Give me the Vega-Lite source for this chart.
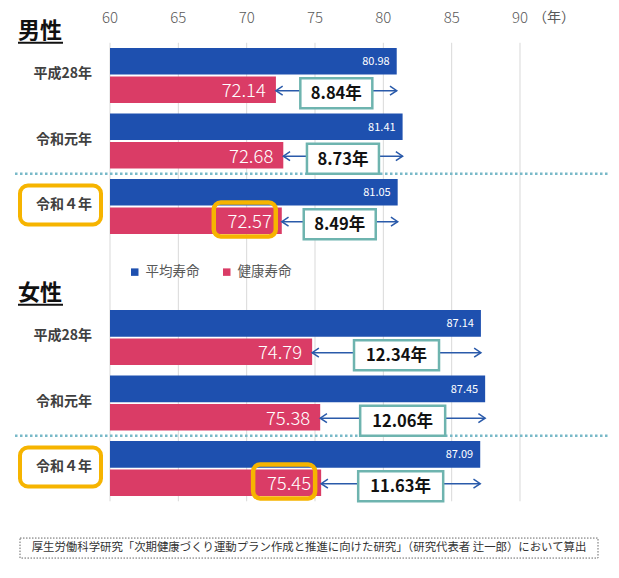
{
  "$schema": "https://vega.github.io/schema/vega-lite/v6.json",
  "width": 619,
  "height": 578,
  "autosize": {"type": "fit", "contains": "padding"},
  "padding": 0,
  "background": "white",
  "config": {"view": {"stroke": null}, "font": "Noto Sans CJK JP", "axis": {"disable": true}},
  "data": {
    "values": [
      {"性別": "男性", "年": "平成28年", "行": "男性・平成28年", "平均寿命": 80.98, "健康寿命": 72.14, "差": "8.84年"},
      {"性別": "男性", "年": "令和元年", "行": "男性・令和元年", "平均寿命": 81.41, "健康寿命": 72.68, "差": "8.73年"},
      {"性別": "男性", "年": "令和４年", "行": "男性・令和４年", "平均寿命": 81.05, "健康寿命": 72.57, "差": "8.49年"},
      {"性別": "女性", "年": "平成28年", "行": "女性・平成28年", "平均寿命": 87.14, "健康寿命": 74.79, "差": "12.34年"},
      {"性別": "女性", "年": "令和元年", "行": "女性・令和元年", "平均寿命": 87.45, "健康寿命": 75.38, "差": "12.06年"},
      {"性別": "女性", "年": "令和４年", "行": "女性・令和４年", "平均寿命": 87.09, "健康寿命": 75.45, "差": "11.63年"}
    ]
  },
  "datasets": {
    "目盛": [{"目盛": 60}, {"目盛": 65}, {"目盛": 70}, {"目盛": 75}, {"目盛": 80}, {"目盛": 85}, {"目盛": 90}],
    "注記": [{"注記": "厚生労働科学研究「次期健康づくり運動プラン作成と推進に向けた研究」（研究代表者 辻一郎）において算出"}]
  },
  "layer": [
    {
      "data": {"name": "目盛"},
      "mark": {"type": "rule", "color": "#d9d9d9", "strokeWidth": 1},
      "encoding": {
        "x": {"field": "目盛", "type": "quantitative", "axis": null},
        "y": {"datum": "男性・平成28年", "type": "nominal", "bandPosition": 0, "axis": null},
        "y2": {"datum": "女性・令和４年", "bandPosition": 1}
      }
    },
    {
      "transform": [{"filter": {"field": "年", "equal": "令和４年"}}],
      "mark": {"type": "rule", "color": "#78b9c8", "strokeWidth": 2.5, "strokeDash": [2.5, 2.5]},
      "encoding": {
        "x": {"datum": 53.049, "type": "quantitative"},
        "x2": {"datum": 96.585},
        "y": {"field": "行", "type": "nominal", "bandPosition": 0}
      }
    },
    {
      "transform": [{"fold": ["平均寿命", "健康寿命"], "as": ["指標", "年数"]}],
      "mark": {"type": "bar"},
      "encoding": {
        "x": {"field": "年数", "type": "quantitative", "scale": {"domain": [51.951, 97.244], "nice": false, "zero": false}, "axis": null},
        "x2": {"datum": 60},
        "y": {
          "field": "行", "type": "nominal", "axis": null,
          "scale": {
            "domain": ["男性・平成28年", "男性・令和元年", "男性・令和４年", "凡例", "女性・平成28年", "女性・令和元年", "女性・令和４年"],
            "paddingInner": 0, "paddingOuter": 0.912, "align": 0.358, "round": false
          }
        },
        "yOffset": {"field": "指標", "type": "nominal", "scale": {"domain": ["平均寿命", "健康寿命"], "paddingInner": 0.064, "paddingOuter": 0.185}},
        "color": {
          "field": "指標", "type": "nominal",
          "scale": {"domain": ["平均寿命", "健康寿命"], "range": ["#1e50af", "#da3c66"]},
          "legend": {
            "title": null, "orient": "none", "legendX": 128, "legendY": 265, "direction": "horizontal",
            "symbolType": "square", "symbolSize": 56, "symbolStrokeWidth": 0,
            "labelFontSize": 13.5, "labelColor": "#595959", "labelFont": "Noto Sans CJK JP",
            "columnPadding": 20, "labelOffset": 4
          }
        }
      }
    },
    {
      "transform": [{"fold": ["平均寿命", "健康寿命"], "as": ["指標", "年数"]}, {"filter": {"field": "指標", "equal": "平均寿命"}}],
      "mark": {"type": "text", "align": "right", "baseline": "middle", "dx": -7, "dy": 1, "fontSize": 11, "color": "white"},
      "encoding": {
        "x": {"field": "年数", "type": "quantitative"},
        "y": {"field": "行", "type": "nominal"},
        "yOffset": {"field": "指標", "type": "nominal"},
        "text": {"field": "年数", "type": "quantitative", "format": ".2f"}
      }
    },
    {
      "transform": [{"fold": ["平均寿命", "健康寿命"], "as": ["指標", "年数"]}, {"filter": {"field": "指標", "equal": "健康寿命"}}],
      "mark": {"type": "text", "align": "right", "baseline": "middle", "dx": -10, "dy": 1.5, "fontSize": 18.5, "fontWeight": 300, "color": "white"},
      "encoding": {
        "x": {"field": "年数", "type": "quantitative"},
        "y": {"field": "行", "type": "nominal"},
        "yOffset": {"field": "指標", "type": "nominal"},
        "text": {"field": "年数", "type": "quantitative", "format": ".2f"}
      }
    },
    {
      "transform": [{"filter": {"field": "年", "equal": "令和４年"}}],
      "mark": {
        "type": "point", "filled": false, "opacity": 1, "size": 3844, "stroke": "#f6b400", "strokeWidth": 4.5,
        "shape": "M-1.968,-0.59H-0.42A0.226,0.226,0,0,1,-0.194,-0.364V0.28A0.226,0.226,0,0,1,-0.42,0.506H-1.968A0.226,0.226,0,0,1,-2.194,0.28V-0.364A0.226,0.226,0,0,1,-1.968,-0.59Z"
      },
      "encoding": {
        "x": {"field": "健康寿命", "type": "quantitative"},
        "y": {"field": "行", "type": "nominal", "bandPosition": 0.717}
      }
    },
    {
      "mark": {"type": "rule", "color": "#2a5aaa", "strokeWidth": 1.5},
      "encoding": {
        "x": {"field": "健康寿命", "type": "quantitative"},
        "x2": {"field": "平均寿命"},
        "y": {"field": "行", "type": "nominal", "bandPosition": 0.732}
      }
    },
    {
      "mark": {"type": "point", "filled": false, "opacity": 1, "size": 81, "stroke": "#2a5aaa", "strokeWidth": 1.5, "shape": "M1.5,-1L0,0L1.5,1"},
      "encoding": {
        "x": {"field": "健康寿命", "type": "quantitative"},
        "y": {"field": "行", "type": "nominal", "bandPosition": 0.732}
      }
    },
    {
      "mark": {"type": "point", "filled": false, "opacity": 1, "size": 81, "stroke": "#2a5aaa", "strokeWidth": 1.5, "shape": "M-1.5,-1L0,0L-1.5,1"},
      "encoding": {
        "x": {"field": "平均寿命", "type": "quantitative"},
        "y": {"field": "行", "type": "nominal", "bandPosition": 0.732}
      }
    },
    {
      "transform": [{"filter": {"field": "性別", "equal": "男性"}}, {"fold": ["平均寿命", "健康寿命"], "as": ["指標", "年数"]}],
      "mark": {"type": "point", "filled": true, "opacity": 1, "fill": "white", "stroke": "#6eb4af", "strokeWidth": 2.5, "size": 5184, "shape": "M-1,-0.4167H1V0.4167H-1Z"},
      "encoding": {
        "x": {"aggregate": "mean", "field": "年数", "type": "quantitative"},
        "y": {"field": "行", "type": "nominal", "bandPosition": 0.77}
      }
    },
    {
      "transform": [{"filter": {"field": "性別", "equal": "女性"}}, {"fold": ["平均寿命", "健康寿命"], "as": ["指標", "年数"]}],
      "mark": {"type": "point", "filled": true, "opacity": 1, "fill": "white", "stroke": "#6eb4af", "strokeWidth": 2.5, "size": 7225, "shape": "M-1,-0.353H1V0.353H-1Z"},
      "encoding": {
        "x": {"aggregate": "mean", "field": "年数", "type": "quantitative"},
        "y": {"field": "行", "type": "nominal", "bandPosition": 0.77}
      }
    },
    {
      "transform": [{"fold": ["平均寿命", "健康寿命"], "as": ["指標", "年数"]}],
      "mark": {"type": "text", "align": "center", "baseline": "middle", "dy": 1, "fontSize": 16.5, "fontWeight": "bold", "color": "#111111"},
      "encoding": {
        "x": {"aggregate": "mean", "field": "年数", "type": "quantitative"},
        "y": {"field": "行", "type": "nominal", "bandPosition": 0.77},
        "text": {"field": "差", "type": "nominal"}
      }
    },
    {
      "transform": [{"filter": {"field": "年", "equal": "令和４年"}}],
      "mark": {
        "type": "point", "filled": false, "opacity": 1, "size": 6561, "stroke": "#f6b400", "strokeWidth": 4,
        "shape": "M-0.8025,-0.518H0.8025A0.1975,0.1975,0,0,1,1,-0.3205V0.2465A0.1975,0.1975,0,0,1,0.8025,0.444H-0.8025A0.1975,0.1975,0,0,1,-1,0.2465V-0.3205A0.1975,0.1975,0,0,1,-0.8025,-0.518Z"
      },
      "encoding": {
        "x": {"datum": 56.378, "type": "quantitative"},
        "y": {"field": "行", "type": "nominal"}
      }
    },
    {
      "mark": {"type": "text", "align": "right", "baseline": "middle", "dy": -1.5, "fontSize": 14, "fontWeight": "bold", "color": "#404040"},
      "encoding": {
        "x": {"datum": 58.683, "type": "quantitative"},
        "y": {"field": "行", "type": "nominal"},
        "text": {"field": "年", "type": "nominal"}
      }
    },
    {
      "transform": [{"filter": {"field": "年", "equal": "平成28年"}}],
      "mark": {"type": "text", "align": "left", "baseline": "bottom", "fontSize": 22, "fontWeight": "bold", "color": "#111111"},
      "encoding": {
        "x": {"datum": 53.268, "type": "quantitative"},
        "y": {"field": "行", "type": "nominal", "bandPosition": 0},
        "text": {"field": "性別", "type": "nominal"}
      }
    },
    {
      "transform": [{"filter": {"field": "年", "equal": "平成28年"}}],
      "mark": {"type": "rule", "color": "#111111", "strokeWidth": 2},
      "encoding": {
        "x": {"datum": 53.268, "type": "quantitative"},
        "x2": {"datum": 56.56},
        "y": {"field": "行", "type": "nominal", "bandPosition": 0}
      }
    },
    {
      "data": {"name": "目盛"},
      "mark": {"type": "text", "align": "center", "baseline": "middle", "dy": -25, "fontSize": 15, "fontWeight": 300, "color": "#595959"},
      "encoding": {
        "x": {"field": "目盛", "type": "quantitative"},
        "y": {"datum": "男性・平成28年", "type": "nominal", "bandPosition": 0},
        "text": {"field": "目盛", "type": "quantitative"}
      }
    },
    {
      "data": {"name": "目盛"},
      "transform": [{"filter": {"field": "目盛", "equal": 90}}],
      "mark": {"type": "text", "align": "left", "baseline": "middle", "dx": 13, "dy": -25, "fontSize": 14, "color": "#595959", "text": "（年）"},
      "encoding": {
        "x": {"field": "目盛", "type": "quantitative"},
        "y": {"datum": "男性・平成28年", "type": "nominal", "bandPosition": 0}
      }
    },
    {
      "data": {"name": "注記"},
      "mark": {"type": "point", "filled": false, "opacity": 1, "size": 334084, "stroke": "#666666", "strokeWidth": 1, "strokeDash": [1.5, 1.5], "shape": "M-1,0.1272H1V0.1964H-1Z"},
      "encoding": {
        "x": {"datum": 74.561, "type": "quantitative"},
        "y": {"datum": "女性・令和４年", "type": "nominal", "bandPosition": 1}
      }
    },
    {
      "data": {"name": "注記"},
      "mark": {"type": "text", "align": "center", "baseline": "middle", "dy": 46.75, "fontSize": 11.4, "color": "#333333"},
      "encoding": {
        "x": {"datum": 74.561, "type": "quantitative"},
        "y": {"datum": "女性・令和４年", "type": "nominal", "bandPosition": 1},
        "text": {"field": "注記", "type": "nominal"}
      }
    }
  ]
}
